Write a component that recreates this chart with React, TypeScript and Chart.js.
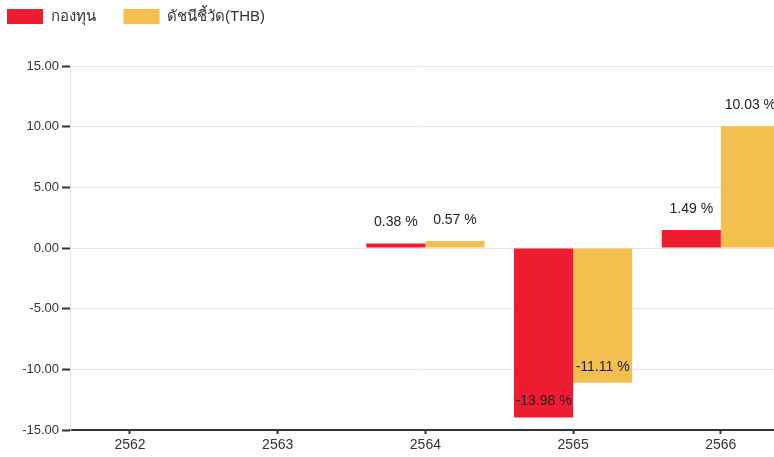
import React, { useEffect, useRef } from 'react';
import { Chart, registerables } from 'chart.js';

Chart.register(...registerables);

const categories = ['2562', '2563', '2564', '2565', '2566'];
const fundValues: (number | null)[] = [null, null, 0.38, -13.98, 1.49];
const benchmarkValues: (number | null)[] = [null, null, 0.57, -11.11, 10.03];
const seriesNames = ['กองทุน', 'ดัชนีชี้วัด(THB)'];
const seriesColors = ['#ED1C2E', '#F3BF4F'];

const FONT = "'Liberation Sans', Arial, sans-serif";
const LEGEND_PAD = 28;

const valueLabels = {
  id: 'valueLabels',
  afterDatasetsDraw(chart: any) {
    const ctx = chart.ctx;
    ctx.save();
    ctx.font = `14px ${FONT}`;
    ctx.fillStyle = '#222';
    ctx.textAlign = 'center';
    ctx.textBaseline = 'middle';
    chart.data.datasets.forEach((ds: any, di: number) => {
      const meta = chart.getDatasetMeta(di);
      meta.data.forEach((el: any, i: number) => {
        const raw = ds.data[i];
        const v = raw ? raw.y : null;
        if (v === null || v === undefined) return;
        const y = v >= 0 ? el.y - 21 : el.y - 16;
        ctx.fillText(`${v.toFixed(2)} %`, el.x, y);
      });
    });
    ctx.restore();
  },
};

const legendLayout = {
  id: 'legendLayout',
  beforeInit(chart: any) {
    const lg = chart.legend;
    if (!lg) return;
    const origFit = lg.fit.bind(lg);
    lg.fit = function () {
      origFit();
      this.height = 66;
    };
  },
  afterLayout(chart: any) {
    const lg = chart.legend;
    if (!lg) return;
    lg.left = 7 - LEGEND_PAD;
    lg.top = 9 - LEGEND_PAD;
  },
};

export default function App() {
  const ref = useRef<HTMLCanvasElement>(null);
  useEffect(() => {
    if (!ref.current) return;
    const toPts = (arr: (number | null)[]) => arr.map((v, i) => ({ x: i, y: v }));
    const chart = new Chart(ref.current, {
      type: 'bar',
      data: {
        datasets: [
          { label: seriesNames[0], data: toPts(fundValues) as any, backgroundColor: seriesColors[0], borderWidth: 0 },
          { label: seriesNames[1], data: toPts(benchmarkValues) as any, backgroundColor: seriesColors[1], borderWidth: 0 },
        ],
      },
      options: {
        animation: false,
        responsive: true,
        maintainAspectRatio: false,
        layout: { padding: { left: 0, right: 0, top: 0, bottom: 0 } },
        datasets: { bar: { categoryPercentage: 0.8, barPercentage: 1.0 } },
        plugins: {
          tooltip: { enabled: false },
          legend: {
            position: 'top',
            align: 'start',
            labels: {
              boxWidth: 36,
              boxHeight: 15,
              padding: LEGEND_PAD,
              color: '#333',
              font: { size: 15, family: FONT },
            },
          },
        },
        scales: {
          x: {
            type: 'linear',
            offset: false,
            min: -0.406,
            max: 4.36,
            afterBuildTicks: (scale: any) => {
              scale.ticks = categories.map((_, i) => ({ value: i }));
            },
            afterFit: (scale: any) => {
              scale.height = 27;
            },
            ticks: {
              autoSkip: false,
              maxRotation: 0,
              padding: 3,
              color: '#333',
              font: { size: 14, family: FONT },
              callback: (v: any) => categories[v as number] ?? '',
            },
            grid: {
              offset: false,
              drawOnChartArea: false,
              tickLength: 4,
              tickColor: '#333',
              tickWidth: 2,
            },
            border: { display: true, color: '#333', width: 2 },
          },
          y: {
            min: -15,
            max: 15,
            afterFit: (scale: any) => {
              scale.width = 70;
            },
            ticks: {
              stepSize: 5,
              padding: 3,
              color: '#333',
              font: { size: 13, family: FONT },
              callback: (v: any) => Number(v).toFixed(2),
            },
            grid: {
              color: '#e8e8e8',
              lineWidth: 1,
              tickLength: 8,
              tickColor: '#333',
              tickWidth: 2,
            },
            border: { display: true, color: '#e3e3e3', width: 1 },
          },
        },
      },
      plugins: [valueLabels, legendLayout],
    });
    return () => chart.destroy();
  }, []);
  return (
    <div style={{ position: 'fixed', left: 0, top: 0, width: 774, height: 457, overflow: 'hidden', background: '#fff' }}>
      <canvas ref={ref} />
    </div>
  );
}
